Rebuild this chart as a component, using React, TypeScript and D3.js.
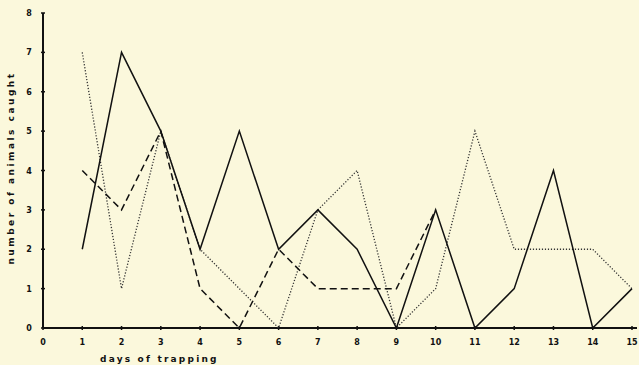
import React from "react";
import * as d3 from "d3";

const days = [1, 2, 3, 4, 5, 6, 7, 8, 9, 10, 11, 12, 13, 14, 15];
const solidSeries = [2, 7, 5, 2, 5, 2, 3, 2, 0, 3, 0, 1, 4, 0, 1];
const dashedSeries = [4, 3, 5, 1, 0, 2, 1, 1, 1, 3];
const dottedSeries = [7, 1, 5, 2, 1, 0, 3, 4, 0, 1, 5, 2, 2, 2, 1];
const xTicks = [0, 1, 2, 3, 4, 5, 6, 7, 8, 9, 10, 11, 12, 13, 14, 15];
const yTicks = [0, 1, 2, 3, 4, 5, 6, 7, 8];

export default function App() {
  const W = 639, H = 365;
  const x = d3.scaleLinear().domain([0, 15]).range([43, 632]);
  const y = d3.scaleLinear().domain([0, 8]).range([328, 13]);
  const line = d3.line<[number, number]>().x(d => x(d[0])).y(d => y(d[1]));
  const mk = (vals: number[]) => vals.map((v, i) => [days[i], v] as [number, number]);
  const font = "'DejaVu Sans', sans-serif";
  return (
    <svg width={W} height={H} style={{ position: "absolute", left: 0, top: 0 }}>
      <rect x={0} y={0} width={W} height={H} fill="#fbf8dc" />
      <line x1={x(0)} x2={x(0)} y1={y(8)} y2={y(0)} stroke="#111" strokeWidth={2} />
      <line x1={x(0)} x2={637} y1={y(0)} y2={y(0)} stroke="#111" strokeWidth={2} />
      {yTicks.map(t => (
        <g key={"y" + t}>
          <line x1={x(0) - 2} x2={x(0) + 2} y1={y(t)} y2={y(t)} stroke="#111" strokeWidth={1.5} />
          <text x={29} y={y(t) + 3} fontSize={8} fontWeight="bold" fontFamily={font} textAnchor="middle" fill="#111">{t}</text>
        </g>
      ))}
      {xTicks.map(t => (
        <g key={"x" + t}>
          <line x1={x(t)} x2={x(t)} y1={y(0) - 2} y2={y(0) + 2} stroke="#111" strokeWidth={1.5} />
          <text x={x(t)} y={345} fontSize={8} fontWeight="bold" fontFamily={font} textAnchor="middle" fill="#111">{t}</text>
        </g>
      ))}
      <text x={100} y={362} fontSize={9} fontWeight="bold" fontFamily={font} letterSpacing={2.2} fill="#111">days  of  trapping</text>
      <text transform={`translate(14,${168}) rotate(-90)`} fontSize={9} fontWeight="bold" fontFamily={font} letterSpacing={2.5} textAnchor="middle" fill="#111">number  of  animals  caught</text>
      <path d={line(mk(dottedSeries)) || ""} fill="none" stroke="#333" strokeWidth={1.3} strokeDasharray="1.2,1.8" />
      <path d={line(mk(dashedSeries)) || ""} fill="none" stroke="#111" strokeWidth={1.5} strokeDasharray="7,4" />
      <path d={line(mk(solidSeries)) || ""} fill="none" stroke="#111" strokeWidth={1.5} />
    </svg>
  );
}
